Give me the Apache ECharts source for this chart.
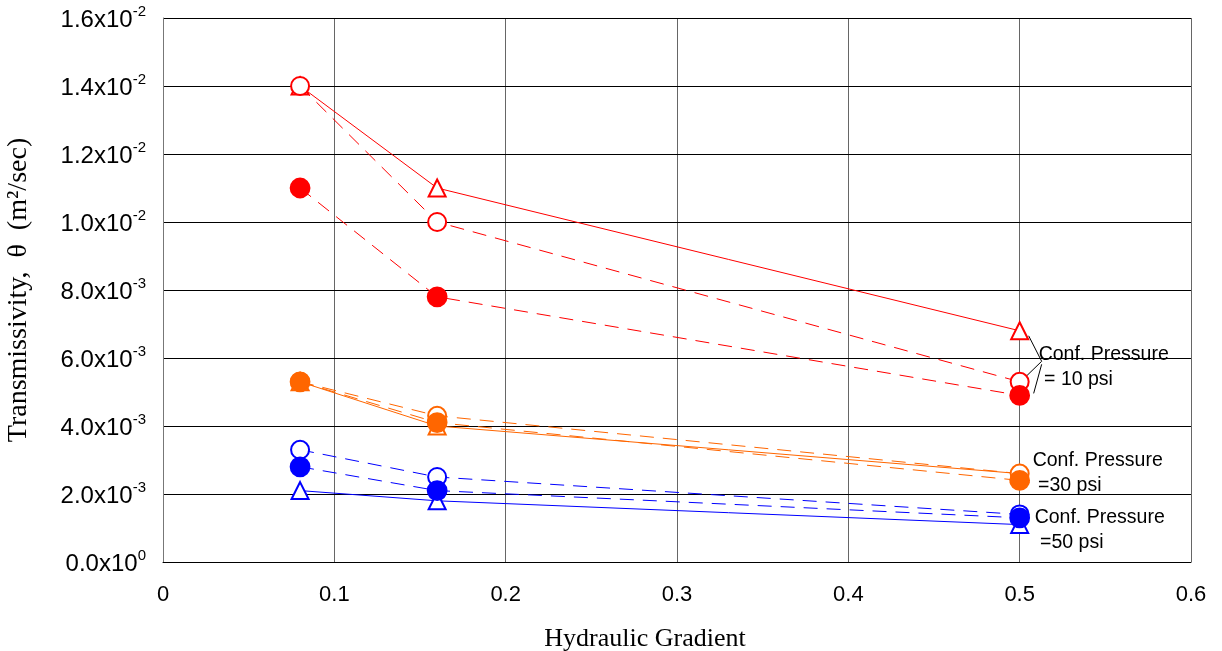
<!DOCTYPE html>
<html><head><meta charset="utf-8">
<script src="https://cdn.jsdelivr.net/npm/echarts@6/dist/echarts.min.js"></script>
<style>html,body{margin:0;padding:0;background:#fff}#c{width:1222px;height:651px}</style>
</head><body><div id="c"></div>
<script>
const gradients = [0.08, 0.16, 0.5];
// Conf. pressure 10 psi
const p10Triangle = [0.0140, 0.0110, 0.0068];
const p10Open = [0.0140, 0.0100, 0.0053];
const p10Filled = [0.0110, 0.0078, 0.0049];
// Conf. pressure 30 psi
const p30Triangle = [0.0053, 0.0040, 0.0026];
const p30Open = [0.0053, 0.0043, 0.0026];
const p30Filled = [0.0053, 0.0041, 0.0024];
// Conf. pressure 50 psi
const p50Triangle = [0.0021, 0.0018, 0.0011];
const p50Open = [0.0033, 0.0025, 0.0014];
const p50Filled = [0.0028, 0.0021, 0.0013];

const yTickMantissa = ['0.0','2.0','4.0','6.0','8.0','1.0','1.2','1.4','1.6'];
const yTickExp = ['0','-3','-3','-3','-3','-2','-2','-2','-2'];
const xTickLabels = ['0','0.1','0.2','0.3','0.4','0.5','0.6'];

const RED = '#ff0000', ORANGE = '#ff6600', BLUE = '#0000ff';

function mk(vals, color, kind) {
  const dashed = kind !== 'triangle';
  const symbol = kind === 'triangle' ? 'emptyTriangle' : (kind === 'open' ? 'emptyCircle' : 'circle');
  return {
    type: 'line',
    data: gradients.map((g, i) => [g, vals[i]]),
    symbol: symbol,
    symbolSize: kind === 'triangle' ? 17 : (kind === 'filled' ? 19 : 18),
    showAllSymbol: true,
    lineStyle: { color: color, width: 1, type: dashed ? [14, 9] : 'solid' },
    itemStyle: { color: color, borderColor: color, borderWidth: 1.8 },
    z: kind === 'filled' ? 5 : (kind === 'open' ? 4 : 3),
    silent: true
  };
}

const chart = echarts.init(document.getElementById('c'), null, { renderer: 'canvas' });
const option = {
  animation: false,
  backgroundColor: '#fff',
  grid: { left: 163, right: 31, top: 18, bottom: 89, show: false, outerBoundsMode: 'none', containLabel: false },
  xAxis: {
    type: 'value', min: 0, max: 0.6, interval: 0.1,
    name: 'Hydraulic Gradient', nameLocation: 'middle', nameGap: 64,
    nameTextStyle: { fontFamily: 'Liberation Serif', fontSize: 26, color: '#000', padding: [0, 64, 0, 0] },
    axisLine: { show: true, lineStyle: { color: '#000', width: 1 } },
    axisTick: { show: false },
    axisLabel: { margin: 22, fontFamily: 'Liberation Sans', fontSize: 22, color: '#000',
      formatter: (v) => xTickLabels[Math.round(v * 10)] },
    splitLine: { show: true, lineStyle: { color: '#000', width: 1, opacity: 0.6 } }
  },
  yAxis: {
    type: 'value', min: 0, max: 0.016, interval: 0.002,
    name: 'Transmissivity,  θ  (m²/sec)', nameLocation: 'middle', nameGap: 130,
    nameTextStyle: { fontFamily: 'Liberation Serif', fontSize: 28, color: '#000' },
    axisLine: { show: true, lineStyle: { color: '#777', width: 1 } },
    axisTick: { show: false },
    axisLabel: {
      margin: 17, color: '#000', fontFamily: 'Liberation Sans', fontSize: 24,
      formatter: (v) => { const i = Math.round(v / 0.002); return '{b|' + yTickMantissa[i] + 'x10}{s|' + yTickExp[i] + '}'; },
      rich: {
        b: { fontFamily: 'Liberation Sans', fontSize: 24, color: '#000', verticalAlign: 'bottom' },
        s: { fontFamily: 'Liberation Sans', fontSize: 15, color: '#000', verticalAlign: 'top', padding: [0, 0, 13, 0] }
      }
    },
    splitLine: { show: true, lineStyle: { color: '#000', width: 1 } }
  },
  series: [
    mk(p50Triangle, BLUE, 'triangle'), mk(p50Open, BLUE, 'open'), mk(p50Filled, BLUE, 'filled'),
    mk(p30Triangle, ORANGE, 'triangle'), mk(p30Open, ORANGE, 'open'), mk(p30Filled, ORANGE, 'filled'),
    mk(p10Triangle, RED, 'triangle'), mk(p10Open, RED, 'open'), mk(p10Filled, RED, 'filled')
  ]
};
chart.setOption(option);

// annotations
const px = (x, y) => chart.convertToPixel({ gridIndex: 0 }, [x, y]);
const tri = px(0.5, p10Triangle[2]);
const opn = px(0.5, p10Open[2]);
const fil = px(0.5, p10Filled[2]);
const conv = [tri[0] + 22, (tri[1] + opn[1]) / 2 + 5];
const txtStyle = { fontFamily: 'Liberation Sans', fontSize: 19.5, fill: '#000', lineHeight: 25 };
const p30 = px(0.5, p30Open[2]);
const p50 = px(0.5, p50Open[2]);
chart.setOption({
  graphic: [
    { type: 'line', shape: { x1: conv[0], y1: conv[1], x2: tri[0] + 9, y2: tri[1] + 5 }, style: { stroke: '#000', lineWidth: 1 } },
    { type: 'line', shape: { x1: conv[0], y1: conv[1], x2: opn[0] + 6, y2: opn[1] - 5 }, style: { stroke: '#000', lineWidth: 1 } },
    { type: 'line', shape: { x1: conv[0], y1: conv[1] + 3, x2: fil[0] + 14, y2: fil[1] - 2 }, style: { stroke: '#000', lineWidth: 1 } },
    { type: 'text', x: conv[0] - 3, y: conv[1] - 19, style: Object.assign({ text: 'Conf. Pressure\n = 10 psi' }, txtStyle) },
    { type: 'text', x: p30[0] + 13, y: p30[1] - 25, style: Object.assign({ text: 'Conf. Pressure\n =30 psi' }, txtStyle) },
    { type: 'text', x: p50[0] + 15, y: p50[1] - 9, style: Object.assign({ text: 'Conf. Pressure\n =50 psi' }, txtStyle) }
  ]
});
</script>
</body></html>
